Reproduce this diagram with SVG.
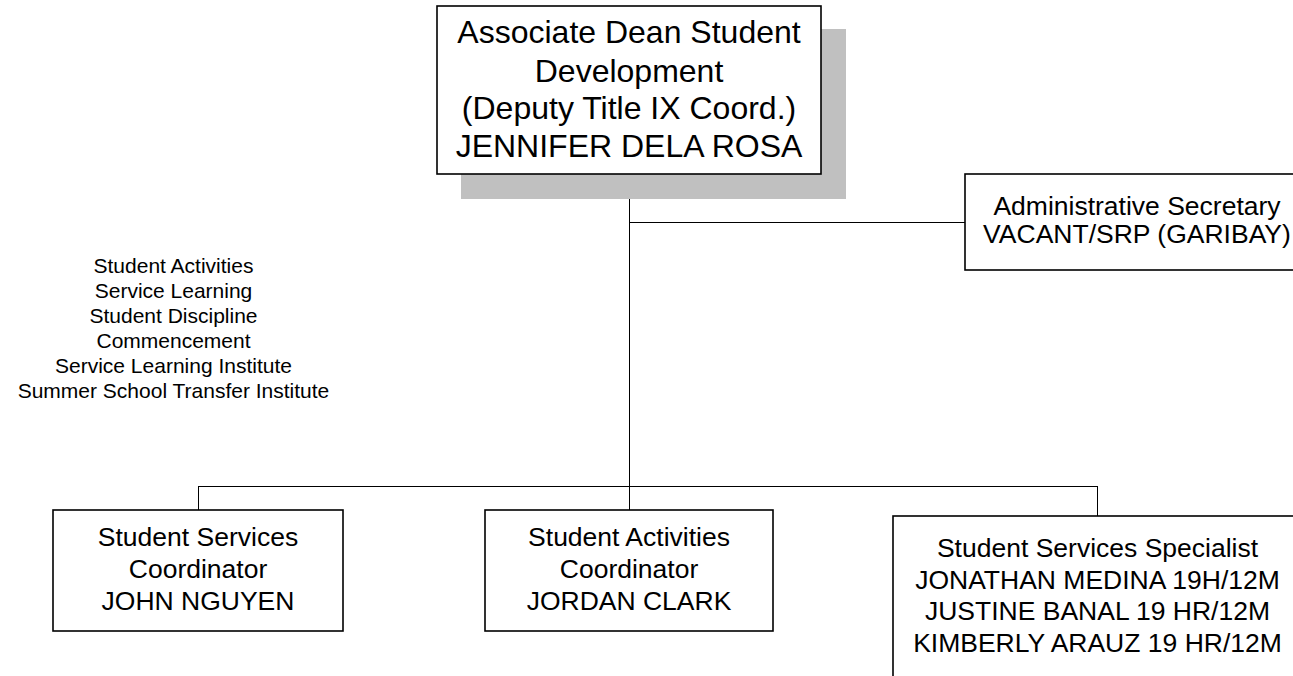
<svg xmlns="http://www.w3.org/2000/svg" width="1293" height="676" viewBox="0 0 1293 676">
<style>
.box{fill:#fff;stroke:#000;stroke-width:1.6}
.shadow{fill:#c0c0c0;stroke:none}
.conn{stroke:#000;stroke-width:1;fill:none}
text{font-family:"Liberation Sans",Arial,sans-serif;fill:#000;text-anchor:middle}
.t32{font-size:32px}
.t26{font-size:26.5px}
.t21{font-size:21px}
</style>
<rect width="1293" height="676" fill="#fff"/>
<g id="connectors">
<path class="conn" d="M629.5 174V486M629.5 222.5H965M198.5 486.5H1097.5M198.5 486V510M629.5 486V510M1097.5 486V516"/>
</g>
<g id="dean">
<rect class="shadow" x="461" y="29" width="385" height="170"/>
<rect class="box" x="437" y="6" width="384" height="168"/>
<text class="t32" x="629" y="43">Associate Dean Student</text>
<text class="t32" x="629" y="81.5">Development</text>
<text class="t32" x="629" y="119">(Deputy Title IX Coord.)</text>
<text class="t32" x="629" y="157">JENNIFER DELA ROSA</text>
</g>
<g id="secretary">
<rect class="box" x="965" y="174" width="345" height="96"/>
<text class="t26" x="1137" y="215">Administrative Secretary</text>
<text class="t26" x="1137" y="242.5">VACANT/SRP (GARIBAY)</text>
</g>
<g id="responsibilities">
<text class="t21" x="173.5" y="272.5">Student Activities</text>
<text class="t21" x="173.5" y="297.5">Service Learning</text>
<text class="t21" x="173.5" y="322.5">Student Discipline</text>
<text class="t21" x="173.5" y="347.5">Commencement</text>
<text class="t21" x="173.5" y="372.5">Service Learning Institute</text>
<text class="t21" x="173.5" y="397.5">Summer School Transfer Institute</text>
</g>
<g id="coordinator1">
<rect class="box" x="53" y="510" width="290" height="121"/>
<text class="t26" x="198" y="546">Student Services</text>
<text class="t26" x="198" y="578">Coordinator</text>
<text class="t26" x="198" y="609.5">JOHN NGUYEN</text>
</g>
<g id="coordinator2">
<rect class="box" x="485" y="510" width="288" height="121"/>
<text class="t26" x="629" y="546">Student Activities</text>
<text class="t26" x="629" y="578">Coordinator</text>
<text class="t26" x="629" y="609.5">JORDAN CLARK</text>
</g>
<g id="specialist">
<rect class="box" x="893" y="516" width="410" height="180"/>
<text class="t26" x="1097.5" y="557">Student Services Specialist</text>
<text class="t26" x="1097.5" y="588.5">JONATHAN MEDINA 19H/12M</text>
<text class="t26" x="1097.5" y="620">JUSTINE BANAL 19 HR/12M</text>
<text class="t26" x="1097.5" y="652">KIMBERLY ARAUZ 19 HR/12M</text>
</g>
</svg>
